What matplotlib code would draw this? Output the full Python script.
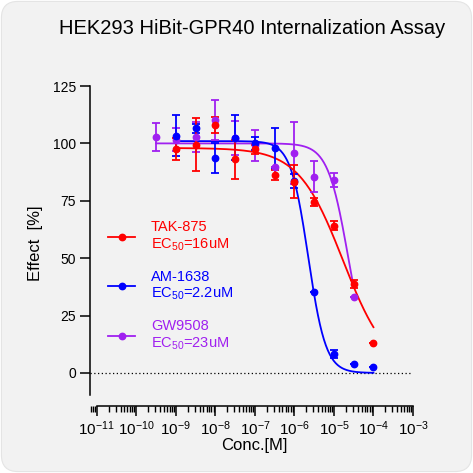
import numpy as np
import matplotlib
matplotlib.use("Agg")
import matplotlib.pyplot as plt
import matplotlib.ticker as mticker
from matplotlib.lines import Line2D
from matplotlib.patches import FancyBboxPatch

plt.rcParams['font.family'] = ['Liberation Sans', 'DejaVu Sans']
plt.rcParams['mathtext.fontset'] = 'custom'
plt.rcParams['mathtext.rm'] = 'Liberation Sans'
plt.rcParams['mathtext.it'] = 'Liberation Sans:italic'
plt.rcParams['mathtext.default'] = 'regular'
plt.rcParams['axes.unicode_minus'] = False

# --- data ---
conc_tak = [1e-9, 3.16e-9, 1e-8, 3.16e-8, 1e-7, 3.16e-7, 1e-6, 3.16e-6, 1e-5, 3.16e-5, 1e-4]
eff_tak = [97.5, 99.5, 108.0, 93.0, 97.4, 86.2, 83.3, 74.5, 64.2, 38.6, 12.9]
err_tak = [4.7, 11.4, 3.5, 8.3, 2.0, 2.2, 7.2, 1.7, 2.0, 1.7, 0.0]

conc_am = [1e-9, 3.16e-9, 1e-8, 3.16e-8, 1e-7, 3.16e-7, 1e-6, 3.16e-6, 1e-5, 3.16e-5, 1e-4]
eff_am = [103.4, 106.6, 93.8, 102.5, 100.0, 97.8, 83.5, 35.1, 8.3, 3.8, 2.7]
err_am = [9.0, 2.0, 6.5, 9.9, 3.0, 8.8, 3.0, 0.0, 1.6, 0.0, 0.0]

conc_gw = [3.16e-10, 1e-9, 3.16e-9, 1e-8, 3.16e-8, 1e-7, 3.16e-7, 1e-6, 3.16e-6, 1e-5, 3.16e-5]
eff_gw = [102.9, 101.5, 102.9, 110.2, 102.5, 99.1, 89.9, 95.9, 85.5, 84.1, 33.2]
err_gw = [6.0, 5.0, 6.5, 8.7, 7.4, 6.7, 0.0, 13.4, 6.7, 3.0, 0.0]

# 4PL fit parameters (top, bottom, logEC50, hill)
fit_tak = (98.0, 0.0, -4.77, 0.77)
fit_am = (101.0, 0.0, -5.65, 1.95)
fit_gw = (100.0, 0.0, -4.635, 1.68)

names = ['TAK-875', 'AM-1638', 'GW9508']
ec50_txt = ['16uM', '2.2uM', '23uM']
colors = ['#ff0000', '#0000ff', '#a020f0']


def hill(x, top, bottom, logec, h):
    return bottom + (top - bottom) / (1 + 10 ** ((np.log10(x) - logec) * h))


fig = plt.figure(figsize=(4.73, 4.73), dpi=100)
fig.patch.set_facecolor('white')
bg = FancyBboxPatch((0.003, 0.003), 0.994, 0.994, boxstyle='round,pad=0,rounding_size=0.035',
                    transform=fig.transFigure, facecolor='#f2f2f2', edgecolor='#e4e4e4',
                    lw=0.8, zorder=-10)
fig.patches.append(bg)

ax = fig.add_axes([90/473, 67/473, 323/473, 320/473])
ax.set_facecolor('none')

ax.axhline(0, color='black', lw=0.9, ls=(0, (1, 2)), zorder=1)

series = [(conc_gw, eff_gw, err_gw, fit_gw, colors[2]),
          (conc_am, eff_am, err_am, fit_am, colors[1]),
          (conc_tak, eff_tak, err_tak, fit_tak, colors[0])]
for conc, eff, err, fit, c in series:
    xs = np.logspace(np.log10(conc[0]), np.log10(conc[-1]), 300)
    ax.plot(xs, hill(xs, *fit), color=c, lw=1.3, zorder=2)
    ax.errorbar(conc, eff, yerr=err, fmt='o', color=c, ms=4.6, capsize=3,
                elinewidth=1.3, capthick=1.3, zorder=3, clip_on=False)

ax.set_xscale('log')
ax.set_xlim(10 ** -11.17, 1e-3)
ax.set_ylim(-14.4, 125)
ax.xaxis.set_major_locator(mticker.LogLocator(base=10, numticks=20))
ax.xaxis.set_minor_locator(mticker.LogLocator(base=10, subs=np.arange(2, 10), numticks=20))
ax.xaxis.set_minor_formatter(mticker.NullFormatter())
ax.set_yticks([0, 25, 50, 75, 100, 125])

for s in ['top', 'right']:
    ax.spines[s].set_visible(False)
ax.spines['left'].set_bounds(-9.6, 125)
ax.spines['bottom'].set_bounds(1e-11, 1e-3)
ax.spines['left'].set_linewidth(1.1)
ax.spines['bottom'].set_linewidth(1.1)

ax.tick_params(axis='both', which='major', length=7, width=1.1, pad=3)
ax.tick_params(axis='x', which='minor', length=4, width=1.0)
ax.tick_params(axis='y', labelsize=10)
ax.tick_params(axis='x', labelsize=11)

ax.set_ylabel('Effect  [%]', fontsize=12, va='center')
ax.yaxis.set_label_coords(-0.170, 0.509)
ax.set_xlabel('Conc.[M]', fontsize=12, va='center')
ax.xaxis.set_label_coords(0.51, -0.122)

fig.text(252/473, 1 - 28/473, 'HEK293 HiBit-GPR40 Internalization Assay',
         fontsize=14.5, ha='center', va='center')

handles = [Line2D([], [], color=c, marker='o', ms=4.6, lw=1.3) for c in colors]
labels = [f'{n}\nEC$_{{50}}$={e}' for n, e in zip(names, ec50_txt)]
leg = ax.legend(handles, labels, loc='upper left', bbox_to_anchor=(0.056, 0.581),
                frameon=False, fontsize=10.5, labelcolor=colors, handlelength=1.85,
                handletextpad=1.1, labelspacing=1.14, borderpad=0, borderaxespad=0)

fig.savefig('out.png', dpi=100)
